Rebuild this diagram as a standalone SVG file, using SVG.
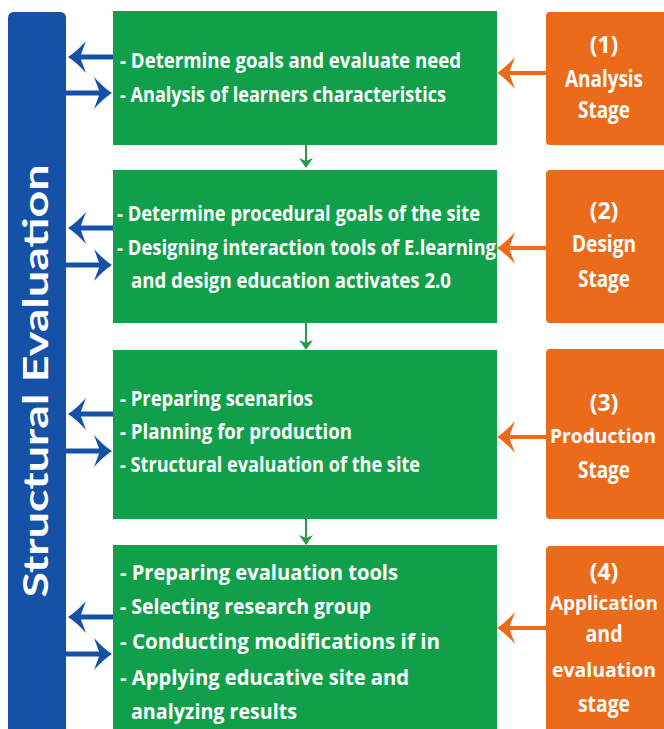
<svg xmlns="http://www.w3.org/2000/svg" width="664" height="729" viewBox="0 0 664 729">
<defs>
<style>
.green{fill:#11a04a}
.orange{fill:#ec6b1b}
.blue{fill:#1651a8}
.gt{font-family:"Open Sans","Liberation Sans",sans-serif;font-weight:700;font-size:22px;fill:#ffffff}
.ot{font-family:"Open Sans","Liberation Sans",sans-serif;font-weight:700;font-size:23px;fill:#ffffff;text-anchor:middle}
.os{font-size:20px}
.bt{font-family:Lato,"DejaVu Sans",sans-serif;font-weight:700;font-size:35px;fill:#ffffff;text-anchor:middle}
.bl{stroke:#1651a8;stroke-width:5;fill:none}
.ol{stroke:#ec6b1b;stroke-width:4;fill:none}
.dl{stroke:#2a9a4a;stroke-width:2;fill:none}
</style>
<marker id="hb" viewBox="0 0 18 32" refX="6" refY="16" markerWidth="18" markerHeight="32" markerUnits="userSpaceOnUse" orient="auto">
<path d="M0,0 Q10,11 18,16 Q10,21 0,32 L6,16 Z" fill="#1651a8"/>
</marker>
<marker id="ho" viewBox="0 0 18 32" refX="6" refY="16" markerWidth="18" markerHeight="32" markerUnits="userSpaceOnUse" orient="auto">
<path d="M0,0 Q10,11 18,16 Q10,21 0,32 L6,16 Z" fill="#ec6b1b"/>
</marker>
<marker id="hg" viewBox="0 0 10 14" refX="3" refY="7" markerWidth="10" markerHeight="14" markerUnits="userSpaceOnUse" orient="auto">
<path d="M0,0 L10,7 L0,14 L3,7 Z" fill="#2a9a4a"/>
</marker>
</defs>
<rect width="664" height="729" fill="#ffffff"/>

<g id="structural-evaluation">
<path class="blue" d="M8,18 Q8,12 14,12 L60,12 Q66,12 66,18 L66,729 L8,729 Z"/>
<text class="bt" transform="translate(48,381) rotate(-90)" textLength="433" lengthAdjust="spacingAndGlyphs">Structural Evaluation</text>
</g>

<g id="box1">
<rect class="green" x="113" y="11" width="384" height="134"/>
<text class="gt" x="120" y="68" textLength="341" lengthAdjust="spacingAndGlyphs">- Determine goals and evaluate need</text>
<text class="gt" x="120" y="102" textLength="326" lengthAdjust="spacingAndGlyphs">- Analysis of learners characteristics</text>
</g>
<g id="box2">
<rect class="green" x="113" y="170" width="384" height="153"/>
<text class="gt" x="117" y="221" textLength="363" lengthAdjust="spacingAndGlyphs">- Determine procedural goals of the site</text>
<text class="gt" x="117" y="255" textLength="379" lengthAdjust="spacingAndGlyphs">- Designing interaction tools of E.learning</text>
<text class="gt" x="131" y="288" textLength="320" lengthAdjust="spacingAndGlyphs">and design education activates 2.0</text>
</g>
<g id="box3">
<rect class="green" x="113" y="350" width="384" height="169"/>
<text class="gt" x="120" y="406" textLength="193" lengthAdjust="spacingAndGlyphs">- Preparing scenarios</text>
<text class="gt" x="120" y="439" textLength="232" lengthAdjust="spacingAndGlyphs">- Planning for production</text>
<text class="gt" x="120" y="472" textLength="300" lengthAdjust="spacingAndGlyphs">- Structural evaluation of the site</text>
</g>
<g id="box4">
<rect class="green" x="113" y="545" width="384" height="184"/>
<text class="gt" x="120" y="580" textLength="278" lengthAdjust="spacingAndGlyphs">- Preparing evaluation tools</text>
<text class="gt" x="120" y="614" textLength="251" lengthAdjust="spacingAndGlyphs">- Selecting research group</text>
<text class="gt" x="120" y="649" textLength="320" lengthAdjust="spacingAndGlyphs">- Conducting modifications if in</text>
<text class="gt" x="120" y="685" textLength="289" lengthAdjust="spacingAndGlyphs">- Applying educative site and</text>
<text class="gt" x="131" y="719" textLength="166" lengthAdjust="spacingAndGlyphs">analyzing results</text>
</g>

<g id="stage1">
<path class="orange" d="M550,12 H664 V145 H550 Q546,145 546,141 V16 Q546,12 550,12 Z"/>
<text class="ot" x="604" y="53">(1)</text>
<text class="ot" x="604" y="87" textLength="78" lengthAdjust="spacingAndGlyphs">Analysis</text>
<text class="ot" x="604" y="118" textLength="52" lengthAdjust="spacingAndGlyphs">Stage</text>
</g>
<g id="stage2">
<path class="orange" d="M550,170 H664 V323 H550 Q546,323 546,319 V174 Q546,170 550,170 Z"/>
<text class="ot" x="604" y="219">(2)</text>
<text class="ot" x="604" y="252" textLength="64" lengthAdjust="spacingAndGlyphs">Design</text>
<text class="ot" x="604" y="287" textLength="52" lengthAdjust="spacingAndGlyphs">Stage</text>
</g>
<g id="stage3">
<path class="orange" d="M550,349 H664 V519 H550 Q546,519 546,515 V353 Q546,349 550,349 Z"/>
<text class="ot" x="604" y="411">(3)</text>
<text class="ot os" x="603" y="443" textLength="106" lengthAdjust="spacingAndGlyphs">Production</text>
<text class="ot" x="604" y="478" textLength="52" lengthAdjust="spacingAndGlyphs">Stage</text>
</g>
<g id="stage4">
<path class="orange" d="M550,546 H664 V729 H546 V550 Q546,546 550,546 Z"/>
<text class="ot" x="604" y="580">(4)</text>
<text class="ot os" x="604" y="610" textLength="108" lengthAdjust="spacingAndGlyphs">Application</text>
<text class="ot" x="604" y="642" textLength="37" lengthAdjust="spacingAndGlyphs">and</text>
<text class="ot os" x="604" y="677" textLength="104" lengthAdjust="spacingAndGlyphs">evaluation</text>
<text class="ot" x="604" y="712" textLength="52" lengthAdjust="spacingAndGlyphs">stage</text>
</g>

<g id="connectors">
<path class="bl" d="M113,57 H80" marker-end="url(#hb)"/>
<path class="bl" d="M66,93 H100" marker-end="url(#hb)"/>
<path class="bl" d="M113,228 H80" marker-end="url(#hb)"/>
<path class="bl" d="M66,265 H100" marker-end="url(#hb)"/>
<path class="bl" d="M113,414 H80" marker-end="url(#hb)"/>
<path class="bl" d="M66,451 H100" marker-end="url(#hb)"/>
<path class="bl" d="M113,617 H80" marker-end="url(#hb)"/>
<path class="bl" d="M66,654 H100" marker-end="url(#hb)"/>
<path class="ol" d="M546,73 H509" marker-end="url(#ho)"/>
<path class="ol" d="M546,248 H509" marker-end="url(#ho)"/>
<path class="ol" d="M546,437 H509" marker-end="url(#ho)"/>
<path class="ol" d="M546,628 H509" marker-end="url(#ho)"/>
<path class="dl" d="M306,145 V161" marker-end="url(#hg)"/>
<path class="dl" d="M306,323 V343" marker-end="url(#hg)"/>
<path class="dl" d="M306,519 V538" marker-end="url(#hg)"/>
</g>
</svg>
